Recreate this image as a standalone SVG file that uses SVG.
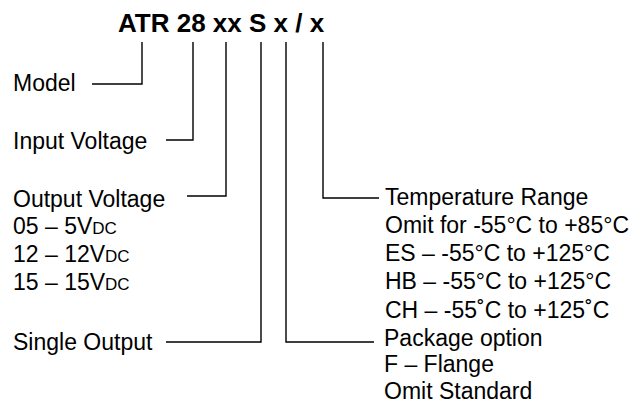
<svg xmlns="http://www.w3.org/2000/svg" width="639" height="412" viewBox="0 0 639 412">
<style>
text{font-family:"Liberation Sans",Arial,sans-serif;font-size:23px;fill:#000}
.t{font-weight:bold;font-size:26px}
.sc{font-size:17px}
.c{fill:none;stroke:#000;stroke-width:1.4}
</style>
<rect width="639" height="412" fill="#fff"/>
<g id="title"><text class="t" x="118" y="32">ATR 28 xx S x / x</text></g>
<g id="model"><text x="13" y="91">Model</text></g>
<g id="input"><text x="13" y="149">Input Voltage</text></g>
<g id="output"><text x="13" y="207">Output Voltage</text>
<text x="13" y="234">05 – 5V<tspan class="sc">DC</tspan></text>
<text x="13" y="262">12 – 12V<tspan class="sc">DC</tspan></text>
<text x="13" y="290">15 – 15V<tspan class="sc">DC</tspan></text></g>
<g id="single"><text x="13" y="350">Single Output</text></g>
<g id="temp"><text x="385" y="205">Temperature Range</text>
<text x="385" y="233">Omit for -55°C to +85°C</text>
<text x="385" y="261">ES – -55°C to +125°C</text>
<text x="385" y="289">HB – -55°C to +125°C</text>
<text x="385" y="318">CH – -55˚C to +125˚C</text></g>
<g id="package"><text x="384" y="346">Package option</text>
<text x="384" y="372">F – Flange</text>
<text x="384" y="399">Omit Standard</text></g>
<g id="connectors" class="c">
<path d="M142 42V84H92"/>
<path d="M193 42V140H166"/>
<path d="M226 42V196H187"/>
<path d="M261 42V342H166"/>
<path d="M286 42V342H374"/>
<path d="M323 42V198H379"/>
</g>
</svg>
